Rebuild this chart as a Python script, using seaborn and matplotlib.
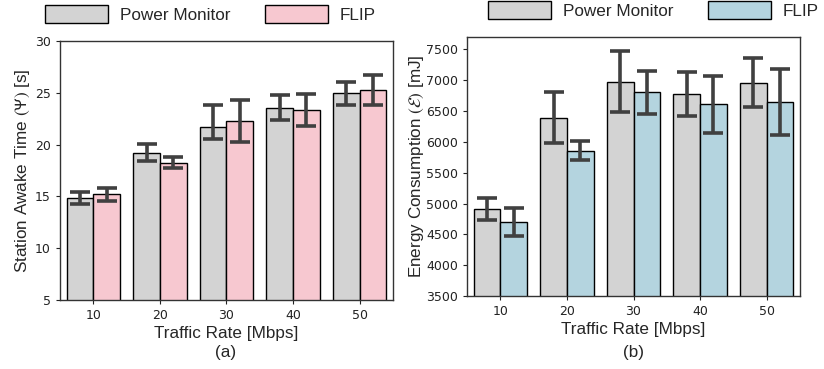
import numpy as np
import pandas as pd
import matplotlib
matplotlib.use("Agg")
import matplotlib.pyplot as plt
import seaborn as sns

# ---- data ----
rates = ["10", "20", "30", "40", "50"]
methods = ["Power Monitor", "FLIP"]

awake_pm = [14.83, 19.21, 21.72, 23.52, 24.94]
awake_pm_lo = [14.29, 18.41, 20.50, 22.33, 23.87]
awake_pm_hi = [15.39, 20.05, 23.87, 24.74, 26.09]
awake_flip = [15.19, 18.22, 22.23, 23.30, 25.23]
awake_flip_lo = [14.52, 17.70, 20.21, 21.82, 23.78]
awake_flip_hi = [15.84, 18.76, 24.32, 24.84, 26.67]

energy_pm = [4908, 6393, 6975, 6776, 6959]
energy_pm_lo = [4736, 5988, 6479, 6420, 6565]
energy_pm_hi = [5087, 6814, 7467, 7137, 7359]
energy_flip = [4698, 5853, 6803, 6608, 6652]
energy_flip_lo = [4466, 5707, 6452, 6144, 6112]
energy_flip_hi = [4930, 6015, 7153, 7067, 7186]

sns.set_style("white")
plt.rcParams["mathtext.fontset"] = "stixsans"

W, H = 824, 369
fig = plt.figure(figsize=(W / 100, H / 100), dpi=100)

def px_axes(l, t, r, b):
    return fig.add_axes([l / W, 1 - b / H, (r - l) / W, (b - t) / H])

FS = 12.3
label_font = dict(family=["Liberation Sans", "DejaVu Sans"], size=FS)

def panel(ax, pm, pm_lo, pm_hi, fl, fl_lo, fl_hi, color, ylim, yticks, ylabel, ypad):
    df = pd.DataFrame({
        "rate": rates * 2,
        "method": [methods[0]] * len(rates) + [methods[1]] * len(rates),
        "value": list(pm) + list(fl),
    })
    sns.barplot(data=df, x="rate", y="value", hue="method", order=rates,
                hue_order=methods, palette=["lightgray", color],
                errorbar=None, edgecolor="black", linewidth=1.0, ax=ax,
                legend=False)
    vals = [(pm, pm_lo, pm_hi), (fl, fl_lo, fl_hi)]
    for cont, (v, lo, hi) in zip(ax.containers, vals):
        xs = [b.get_x() + b.get_width() / 2 for b in cont]
        v = np.array(v); lo = np.array(lo); hi = np.array(hi)
        ax.errorbar(xs, v, yerr=[v - lo, hi - v], fmt="none",
                    ecolor="#404040", elinewidth=2.6, capsize=7.5,
                    capthick=2.6, zorder=5)
    ax.set_xlim(-0.5, len(rates) - 0.5)
    ax.set_ylim(*ylim)
    ax.set_yticks(yticks)
    ax.set_xlabel("Traffic Rate [Mbps]", fontdict=label_font, labelpad=3)
    ax.set_ylabel(ylabel, fontdict=label_font, labelpad=ypad)
    ax.tick_params(axis="both", labelsize=9, length=3, width=0.8,
                   colors="#222222", left=True, bottom=True)
    for s in ax.spines.values():
        s.set_color("#333333")
        s.set_linewidth(1.0)

ax1 = px_axes(60, 41, 393, 300)
panel(ax1, awake_pm, awake_pm_lo, awake_pm_hi, awake_flip, awake_flip_lo,
      awake_flip_hi, "pink", (5, 30), [5, 10, 15, 20, 25, 30],
      r"Station Awake Time $(\Psi)$ [s]", 2)

ax2 = px_axes(467, 37, 800, 296)
panel(ax2, energy_pm, energy_pm_lo, energy_pm_hi, energy_flip, energy_flip_lo,
      energy_flip_hi, "lightblue", (3500, 7700),
      [3500, 4000, 4500, 5000, 5500, 6000, 6500, 7000, 7500],
      r"Energy Consumption $(\mathcal{E})$ [mJ]", 0)

def legend_for(ax, x0, y0):
    handles = [c.patches[0] for c in ax.containers[:2]]
    leg = fig.legend(handles, methods, loc="upper left",
                     bbox_to_anchor=(x0 / W, 1 - y0 / H), ncol=2,
                     frameon=False, borderpad=0, borderaxespad=0,
                     handlelength=3.7, handleheight=1.2, handletextpad=0.7,
                     columnspacing=2.0,
                     prop=dict(family=["Liberation Sans", "DejaVu Sans"], size=FS))
    return leg

legend_for(ax1, 45, 5)
legend_for(ax2, 488, 1)

fig.text(226 / W, 1 - 352 / H, "(a)", ha="center", va="center",
         family=["Liberation Sans", "DejaVu Sans"], fontsize=FS)
fig.text(633 / W, 1 - 352 / H, "(b)", ha="center", va="center",
         family=["Liberation Sans", "DejaVu Sans"], fontsize=FS)

fig.savefig("out.png", dpi=100)
